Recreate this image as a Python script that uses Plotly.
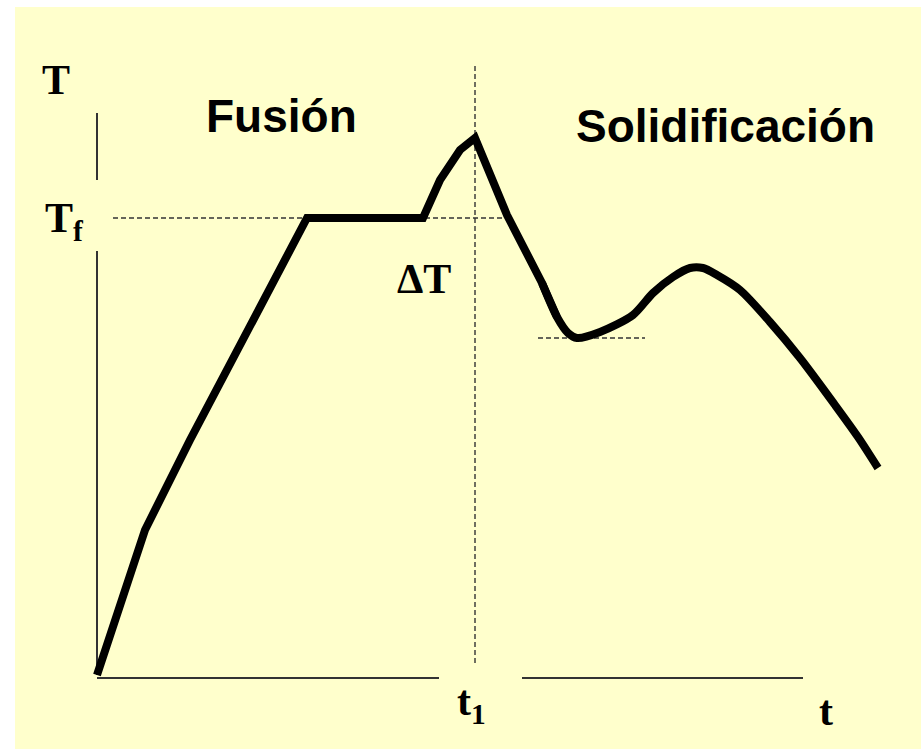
import plotly.graph_objects as go

# ---- data (t = time, T = temperature, arbitrary units) ----
# heating / melting / overheating part (straight segments)
heat_t = [0, 3.1, 4.8, 9.3, 21.0, 32.6, 34.3, 36.3, 37.8, 41.0, 44.5, 46.0]
heat_T = [0, 9.5, 14.5, 23.5, 45.7, 45.7, 49.5, 52.5, 53.7, 46.0, 39.2, 35.8]
# cooling / solidification part (smooth)
cool_t = [44.5, 46.0, 47.1, 48.0, 50.3, 53.6, 55.6, 57.6, 59.3, 60.6, 62.0, 64.3,
          67.3, 70.3, 73.8, 76.1, 78.1]
cool_T = [39.2, 35.8, 34.2, 33.7, 34.3, 36.0, 38.2, 39.8, 40.7, 40.7, 40.0, 38.5,
          35.3, 31.7, 27.0, 23.8, 20.7]

T_f = 45.7          # melting temperature
t_1 = 37.8          # time of peak
T_min = 33.7        # undercooling minimum
tf_dash_t = [1.6, 41.0]
min_dash_t = [44.1, 54.8]
t1_dash_T = [1.2, 61.0]

yaxis_segments = [[49.5, 56.2], [0, 42.4]]
xaxis_segments = [[0, 34.2], [42.5, 70.6]]
axis_T = -0.3

labels = ["T", "T<sub>f</sub>", "Fusión", "Solidificación", "ΔT", "t<sub>1</sub>", "t"]

W, H = 924, 755
PX0, PY0, S = 97, 675, 10.0   # pixel origin and pixels per unit

def tx(px):
    return (px - PX0) / S

def ty(py):
    return (PY0 - py) / S

fig = go.Figure()

axis_col = "#333333"
# axes
for seg in yaxis_segments:
    fig.add_trace(go.Scatter(x=[0, 0], y=seg, mode="lines",
                             line=dict(color=axis_col, width=2), hoverinfo="skip"))
for seg in xaxis_segments:
    fig.add_trace(go.Scatter(x=seg, y=[axis_T, axis_T], mode="lines",
                             line=dict(color=axis_col, width=2), hoverinfo="skip"))

dash = dict(color=axis_col, width=1.4, dash="5px,3px")
fig.add_trace(go.Scatter(x=tf_dash_t, y=[T_f, T_f], mode="lines", line=dash, hoverinfo="skip"))
fig.add_trace(go.Scatter(x=min_dash_t, y=[T_min, T_min], mode="lines", line=dash, hoverinfo="skip"))
fig.add_trace(go.Scatter(x=[t_1, t_1], y=t1_dash_T, mode="lines", line=dash, hoverinfo="skip"))

# main curve
fig.add_trace(go.Scatter(x=heat_t, y=heat_T, mode="lines",
                         line=dict(color="black", width=8), hoverinfo="skip"))
fig.add_trace(go.Scatter(x=cool_t, y=cool_T, mode="lines",
                         line=dict(color="black", width=8, shape="spline", smoothing=0.8),
                         hoverinfo="skip"))

serif = "Liberation Serif"
sans = "Liberation Sans"
ann_pos = [
    (56, 80, serif, 42),
    (64, 221, serif, 42),
    (281, 116, sans, 46),
    (725, 126, sans, 46),
    (424, 279, serif, 42),
    (471, 704, serif, 42),
    (826, 711, serif, 42),
]
for txt, (px, py, fam, sz) in zip(labels, ann_pos):
    fig.add_annotation(x=tx(px), y=ty(py), text=f"<b>{txt}</b>", showarrow=False,
                       xanchor="center", yanchor="middle",
                       font=dict(family=fam, size=sz, color="black"))

fig.add_shape(type="rect", xref="paper", yref="paper",
              x0=15 / W, x1=921 / W, y0=1 - 749 / H, y1=1 - 7 / H,
              fillcolor="#FFFFCC", line=dict(width=0), layer="below")

fig.update_layout(
    width=W, height=H, autosize=False,
    margin=dict(l=0, r=0, t=0, b=0),
    paper_bgcolor="white", plot_bgcolor="rgba(0,0,0,0)",
    showlegend=False,
    xaxis=dict(range=[tx(0), tx(W)], visible=False, fixedrange=True),
    yaxis=dict(range=[ty(H), ty(0)], visible=False, fixedrange=True),
)

fig.write_html("out.html", config={"displayModeBar": False},
               post_script="document.body.style.margin='0px';document.body.style.overflow='hidden';")
